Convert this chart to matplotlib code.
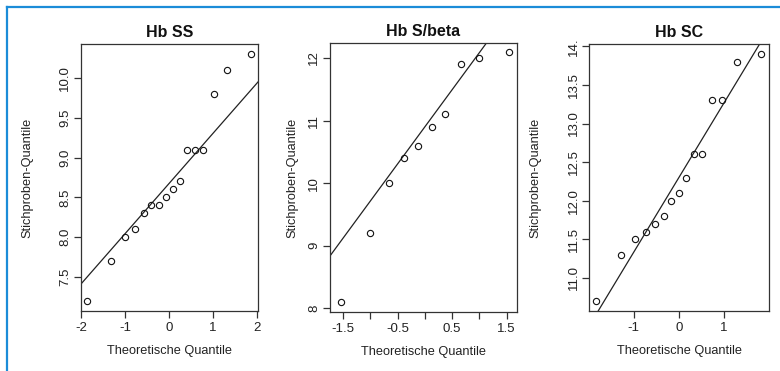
#!/usr/bin/env python3
"""Normal Q-Q plots of Hb values for the three genotype groups."""
from __future__ import annotations

from statistics import NormalDist

import matplotlib

matplotlib.use("Agg")
import matplotlib.pyplot as plt
import numpy as np
from matplotlib.lines import Line2D

plt.rcParams["font.family"] = ["Liberation Sans", "DejaVu Sans"]

# sample values (sorted)
HB_SS = [7.2, 7.7, 8.0, 8.1, 8.3, 8.4, 8.4, 8.5, 8.6, 8.7, 9.1, 9.1, 9.1, 9.8, 10.1, 10.3]
HB_SBETA = [8.1, 9.2, 10.0, 10.4, 10.6, 10.9, 11.1, 11.9, 12.0, 12.1]
HB_SC = [10.7, 11.3, 11.5, 11.6, 11.7, 11.8, 12.0, 12.1, 12.3, 12.6, 12.6, 13.3, 13.3, 13.8, 13.9]

TITLES = ["Hb SS", "Hb S/beta", "Hb SC"]
XLABEL = "Theoretische Quantile"
YLABEL = "Stichproben-Quantile"

X_TICKS = [[-2, -1, 0, 1, 2], [-1.5, -1.0, -0.5, 0.0, 0.5, 1.0, 1.5], [-1, 0, 1]]
X_TICKLABELS = [["-2", "-1", "0", "1", "2"], ["-1.5", "", "-0.5", "", "0.5", "", "1.5"], ["-1", "0", "1"]]
Y_TICKS = [[7.5, 8.0, 8.5, 9.0, 9.5, 10.0], [8, 9, 10, 11, 12], [11.0, 11.5, 12.0, 12.5, 13.0, 13.5, 14.0]]
Y_TICKLABELS = [
    ["7.5", "8.0", "8.5", "9.0", "9.5", "10.0"],
    ["8", "9", "10", "11", "12"],
    ["11.0", "11.5", "12.0", "12.5", "13.0", "13.5", "14."],
]

W, H = 780, 371
# axes boxes in pixels: left, top, right, bottom
BOXES = [(80.7, 44, 258, 311), (330, 43, 517, 312), (589.3, 44, 769.3, 311)]
XLIMS = [(-2.007, 2.02), (-1.74, 1.69), (-1.99, 2.01)]
YLIMS = [(7.076, 10.424), (7.94, 12.24), (10.572, 14.03)]
YLABEL_OFFSET = [47.0, 31.5, 47.5]  # px left of axes


def theoretical_quantiles(n: int) -> np.ndarray:
    a = 3 / 8 if n <= 10 else 0.5
    p = (np.arange(1, n + 1) - a) / (n + 1 - 2 * a)
    nd = NormalDist()
    return np.array([nd.inv_cdf(v) for v in p])


def qq_panel(ax, values, i):
    y = np.sort(np.asarray(values, dtype=float))
    x = theoretical_quantiles(len(y))
    ax.plot(x, y, "o", markersize=4.5, markerfacecolor="none",
            markeredgecolor="#111111", markeredgewidth=0.8, zorder=3)

    # qqline through the quartiles
    q1, q3 = np.quantile(y, [0.25, 0.75])
    z1, z3 = NormalDist().inv_cdf(0.25), NormalDist().inv_cdf(0.75)
    slope = (q3 - q1) / (z3 - z1)
    ax.axline((z1, q1), slope=slope, color="#222222", linewidth=0.9, zorder=2)

    ax.set_xlim(*XLIMS[i])
    ax.set_ylim(*YLIMS[i])
    ax.set_xticks(X_TICKS[i])
    ax.set_xticklabels(X_TICKLABELS[i])
    ax.set_yticks(Y_TICKS[i])
    ax.set_yticklabels(Y_TICKLABELS[i])
    for lab in ax.get_yticklabels():
        lab.set_rotation(90)
        lab.set_va("center")
        lab.set_ha("right")

    ax.tick_params(length=5, width=0.9, color="#333333", labelsize=9.5, labelcolor="#222222")
    ax.tick_params(axis="x", pad=3)
    ax.tick_params(axis="y", pad=2)
    for sp in ax.spines.values():
        sp.set_color("#333333")
        sp.set_linewidth(0.9)

    ax.set_title(TITLES[i], fontsize=11.5, fontweight="bold", pad=5, color="#111111")
    ax.set_xlabel(XLABEL, fontsize=9.2, color="#222222", va="top")
    ax.set_ylabel(YLABEL, fontsize=9.2, color="#222222")
    l, t, r, b = BOXES[i]
    ax.xaxis.set_label_coords(0.5, -34.0 / (b - t))
    ax.yaxis.set_label_coords(-YLABEL_OFFSET[i] / (r - l), 0.5)


def main() -> None:
    fig = plt.figure(figsize=(W / 100, H / 100), dpi=100)
    for i, vals in enumerate([HB_SS, HB_SBETA, HB_SC]):
        l, t, r, b = BOXES[i]
        ax = fig.add_axes([l / W, 1 - b / H, (r - l) / W, (b - t) / H])
        qq_panel(ax, vals, i)

    # blue frame on the left and top edges
    blue = "#1b8cd8"
    fig.add_artist(Line2D([7 / W, 7 / W], [0, 1 - 6.5 / H], color=blue, linewidth=1.6,
                          transform=fig.transFigure))
    fig.add_artist(Line2D([7 / W, 1], [1 - 6.5 / H, 1 - 6.5 / H], color=blue, linewidth=1.6,
                          transform=fig.transFigure))

    fig.savefig("out.png", dpi=100)
    plt.close(fig)


if __name__ == "__main__":
    main()
